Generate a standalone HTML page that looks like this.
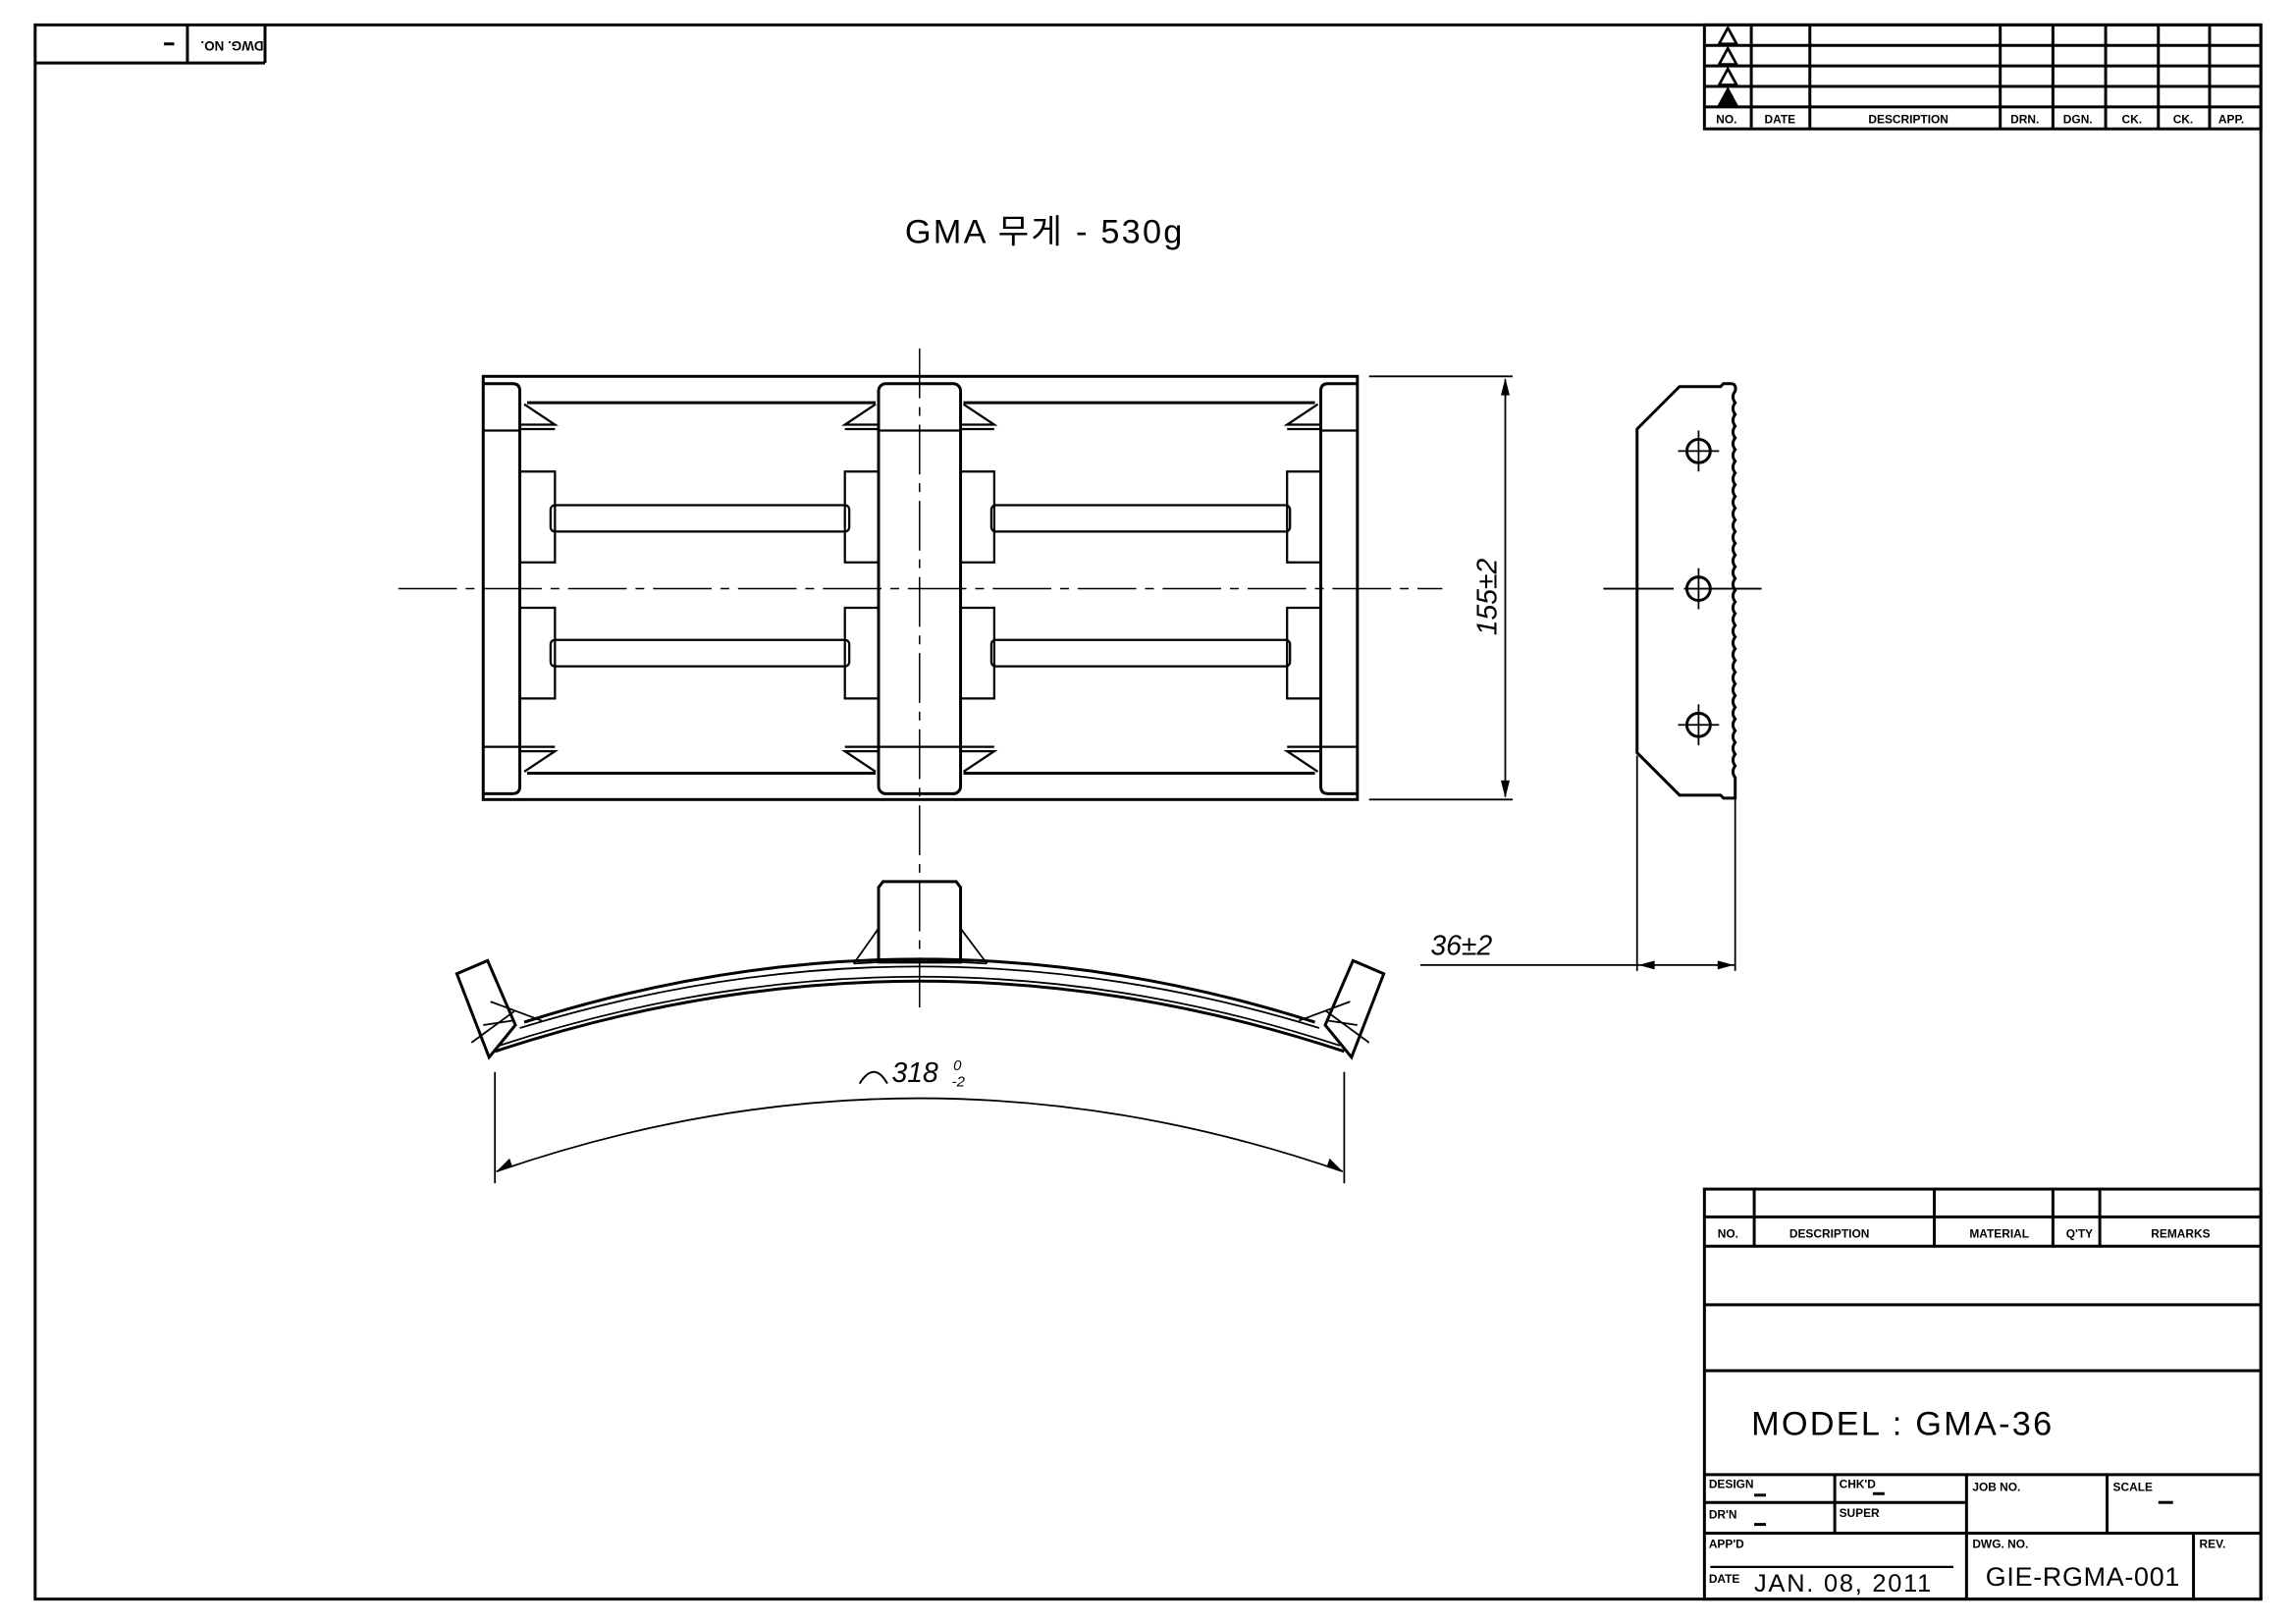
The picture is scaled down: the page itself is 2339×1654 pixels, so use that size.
<!DOCTYPE html>
<html><head><meta charset="utf-8"><style>
html,body{margin:0;padding:0;background:#fff;}
svg{display:block;}
text{font-family:"Liberation Sans","Noto Sans CJK KR",sans-serif;fill:#000;}
.b{font-weight:bold;font-size:8px;}
</style></head><body>
<svg width="2339" height="1654" viewBox="0 0 1568 1109" preserveAspectRatio="none" xmlns="http://www.w3.org/2000/svg">
<g fill="none" stroke="#000" stroke-width="2">
<rect x="24" y="17" width="1520" height="1075"/>
<line x1="24" y1="43" x2="181" y2="43"/><line x1="181" y1="17" x2="181" y2="43"/><line x1="128" y1="17" x2="128" y2="43"/>
<rect x="1164" y="17" width="380" height="71"/>
<line x1="1164" y1="31" x2="1544" y2="31"/><line x1="1164" y1="45" x2="1544" y2="45"/><line x1="1164" y1="59" x2="1544" y2="59"/><line x1="1164" y1="73" x2="1544" y2="73"/>
<line x1="1196" y1="17" x2="1196" y2="88"/><line x1="1236" y1="17" x2="1236" y2="88"/><line x1="1366" y1="17" x2="1366" y2="88"/><line x1="1402" y1="17" x2="1402" y2="88"/><line x1="1438" y1="17" x2="1438" y2="88"/><line x1="1474" y1="17" x2="1474" y2="88"/><line x1="1509" y1="17" x2="1509" y2="88"/>
<rect x="1164" y="812" width="380" height="280"/>
<line x1="1164" y1="831" x2="1544" y2="831"/><line x1="1164" y1="851" x2="1544" y2="851"/><line x1="1164" y1="891" x2="1544" y2="891"/><line x1="1164" y1="936" x2="1544" y2="936"/><line x1="1164" y1="1007" x2="1544" y2="1007"/>
<line x1="1198" y1="812" x2="1198" y2="851"/><line x1="1321" y1="812" x2="1321" y2="851"/><line x1="1402" y1="812" x2="1402" y2="851"/><line x1="1434" y1="812" x2="1434" y2="851"/>
<line x1="1253" y1="1007" x2="1253" y2="1047"/><line x1="1343" y1="1007" x2="1343" y2="1092"/><line x1="1439" y1="1007" x2="1439" y2="1047"/>
<line x1="1164" y1="1026" x2="1343" y2="1026"/><line x1="1164" y1="1047" x2="1544" y2="1047"/><line x1="1498" y1="1047" x2="1498" y2="1092"/>
<line x1="1168" y1="1070" x2="1334" y2="1070" stroke-width="1.5"/>
</g>
<g fill="none" stroke="#000" stroke-width="1.8">
<path d="M1174 30 L1180 19 L1186 30 Z"/><path d="M1174 44 L1180 33 L1186 44 Z"/><path d="M1174 58 L1180 47 L1186 58 Z"/><path d="M1174 72 L1180 61 L1186 72 Z" fill="#000"/>
</g>
<g class="b">
<text x="1172" y="84" class="b">NO.</text><text x="1205" y="84" class="b">DATE</text><text x="1276" y="84" class="b">DESCRIPTION</text><text x="1373" y="84" class="b">DRN.</text><text x="1409" y="84" class="b">DGN.</text><text x="1449" y="84" class="b">CK.</text><text x="1484" y="84" class="b">CK.</text><text x="1515" y="84" class="b">APP.</text>
<text x="1173" y="845" class="b">NO.</text><text x="1222" y="845" class="b">DESCRIPTION</text><text x="1345" y="845" class="b">MATERIAL</text><text x="1411" y="845" class="b">Q'TY</text><text x="1469" y="845" class="b">REMARKS</text>
<text x="1167" y="1016" class="b">DESIGN</text><text x="1256" y="1016" class="b">CHK'D</text><text x="1347" y="1018" class="b">JOB NO.</text><text x="1443" y="1018" class="b">SCALE</text>
<text x="1167" y="1037" class="b">DR'N</text><text x="1256" y="1036" class="b">SUPER</text>
<text x="1167" y="1057" class="b">APP'D</text><text x="1347" y="1057" class="b">DWG. NO.</text><text x="1502" y="1057" class="b">REV.</text>
<text x="1167" y="1081" class="b">DATE</text>
</g>
<g stroke="#000" stroke-width="2">
<line x1="1198" y1="1021" x2="1206" y2="1021"/><line x1="1279" y1="1020" x2="1287" y2="1020"/><line x1="1198" y1="1041" x2="1206" y2="1041"/><line x1="1474" y1="1026" x2="1484" y2="1026"/>
<line x1="112" y1="30" x2="119" y2="30"/>
</g>
<text transform="translate(180,28) rotate(180)" class="b" style="font-size:9px">DWG. NO.</text>
<text x="1196" y="980" style="font-size:23px;letter-spacing:1.5px">MODEL : GMA-36</text>
<text x="1356" y="1083" style="font-size:18px;letter-spacing:0.5px">GIE-RGMA-001</text>
<text x="1198" y="1087" style="font-size:17px;letter-spacing:1.2px">JAN. 08, 2011</text>
<text x="618" y="166" style="font-size:23px;letter-spacing:1.5px">GMA 무게 - 530g</text>

<g fill="none" stroke="#000" stroke-width="2">
<rect x="330" y="257" width="597" height="289"/>
<path d="M330 262 H350 Q355 262 355 267 V537 Q355 542 350 542 H330"/>
<path d="M927 262 H907 Q902 262 902 267 V537 Q902 542 907 542 H927"/>
<rect x="600" y="262" width="56" height="280" rx="5"/>
<line x1="360" y1="275" x2="598" y2="275"/><line x1="658" y1="275" x2="898" y2="275"/>
<line x1="360" y1="528" x2="598" y2="528"/><line x1="658" y1="528" x2="898" y2="528"/>
</g>
<g fill="none" stroke="#000" stroke-width="1.5">
<line x1="330" y1="294" x2="355" y2="294"/><line x1="330" y1="510" x2="355" y2="510"/>
<line x1="902" y1="294" x2="927" y2="294"/><line x1="902" y1="510" x2="927" y2="510"/>
<line x1="600" y1="294" x2="656" y2="294"/><line x1="600" y1="510" x2="656" y2="510"/>
<path d="M355 322 H379 V384 H355"/><path d="M355 415 H379 V477 H355"/>
<path d="M600 322 H577 V384 H600"/><path d="M600 415 H577 V477 H600"/>
<path d="M656 322 H679 V384 H656"/><path d="M656 415 H679 V477 H656"/>
<path d="M902 322 H879 V384 H902"/><path d="M902 415 H879 V477 H902"/>
<rect x="376" y="345" width="204" height="18" rx="3"/><rect x="376" y="437" width="204" height="18" rx="3"/>
<rect x="677" y="345" width="204" height="18" rx="3"/><rect x="677" y="437" width="204" height="18" rx="3"/>
<path d="M358 276 L379 290 H356"/><path d="M356 293 H379"/>
<path d="M598 276 L577 290 H600"/><path d="M600 293 H577"/>
<path d="M658 276 L679 290 H656"/><path d="M656 293 H679"/>
<path d="M900 276 L879 290 H902"/><path d="M902 293 H879"/>
<path d="M358 527 L379 513 H356"/><path d="M356 510 H379"/>
<path d="M598 527 L577 513 H600"/><path d="M600 510 H577"/>
<path d="M658 527 L679 513 H656"/><path d="M656 510 H679"/>
<path d="M900 527 L879 513 H902"/><path d="M902 510 H879"/>
</g>
<g stroke="#000" stroke-width="1" fill="none">
<line x1="272" y1="402" x2="985" y2="402" stroke-dasharray="40,6,6,6"/>
<line x1="628" y1="238" x2="628" y2="692" stroke-dasharray="34,6,6,6"/>
</g>
<g stroke="#000" stroke-width="1.2" fill="none">
<line x1="935" y1="257" x2="1033" y2="257"/><line x1="935" y1="546" x2="1033" y2="546"/>
<line x1="1028" y1="259" x2="1028" y2="544"/>
</g>
<path d="M1028 258 L1025 270 L1031 270 Z M1028 545 L1025 533 L1031 533 Z" fill="#000"/>
<text transform="translate(1022,434) rotate(-90)" style="font-size:19px;font-style:italic">155±2</text>

<g fill="none" stroke="#000" stroke-width="2">
<path d="M1183 262 H1177 L1175 264 H1147 L1118 293 V514 L1147 543 H1175 L1177 545 H1185"/>
<path d="M1183 262 Q1186 263 1185 267 q-3 4 0 8 q-3 4 0 8 q-3 4 0 8 q-3 4 0 8 q-3 4 0 8 q-3 4 0 8 q-3 4 0 8 q-3 4 0 8 q-3 4 0 8 q-3 4 0 8 q-3 4 0 8 q-3 4 0 8 q-3 4 0 8 q-3 4 0 8 q-3 4 0 8 q-3 4 0 8 q-3 4 0 8 q-3 4 0 8 q-3 4 0 8 q-3 4 0 8 q-3 4 0 8 q-3 4 0 8 q-3 4 0 8 q-3 4 0 8 q-3 4 0 8 q-3 4 0 8 q-3 4 0 8 q-3 4 0 8 q-3 4 0 8 q-3 4 0 8 q-3 4 0 8 q-3 4 0 8 q-3 4 0 8 V546"/>
<circle cx="1160" cy="308" r="8"/><circle cx="1160" cy="402" r="8"/><circle cx="1160" cy="495" r="8"/>
</g>
<g stroke="#000" stroke-width="1.2" fill="none">
<line x1="1146" y1="308" x2="1174" y2="308"/><line x1="1160" y1="294" x2="1160" y2="322"/>
<line x1="1146" y1="495" x2="1174" y2="495"/><line x1="1160" y1="481" x2="1160" y2="509"/>
<line x1="1160" y1="388" x2="1160" y2="416"/>
<line x1="1095" y1="402" x2="1143" y2="402"/><line x1="1150" y1="402" x2="1203" y2="402"/>
<line x1="1118" y1="516" x2="1118" y2="663"/><line x1="1185" y1="546" x2="1185" y2="663"/>
<line x1="970" y1="659" x2="1185" y2="659"/>
</g>
<path d="M1119 659 L1130 656 L1130 662 Z M1184 659 L1173 656 L1173 662 Z" fill="#000"/>
<text x="977" y="652" style="font-size:19px;font-style:italic">36±2</text>

<g fill="none" stroke="#000" stroke-width="2">
<path d="M600 657 V606 L603 602 H653 L656 606 V657 Z"/>
<path d="M358 698 Q628 612 898 698"/>
<path d="M338 718 Q628 622 918 718"/>
<path d="M312 665 L333 656 L352 700 L334 722 Z"/>
<path d="M945 665 L924 656 L905 700 L923 722 Z"/>
</g>
<g fill="none" stroke="#000" stroke-width="1.2">
<path d="M355 702 Q628 618 901 702"/>
<path d="M341 714 Q628 620 915 714"/>
<line x1="600" y1="634" x2="583" y2="658"/><line x1="656" y1="634" x2="674" y2="658"/>
<line x1="583" y1="658" x2="600" y2="657"/><line x1="656" y1="657" x2="674" y2="658"/>
<line x1="335" y1="684" x2="370" y2="697"/><line x1="322" y1="712" x2="352" y2="690"/><line x1="330" y1="700" x2="350" y2="697"/>
<line x1="922" y1="684" x2="887" y2="697"/><line x1="935" y1="712" x2="905" y2="690"/><line x1="927" y1="700" x2="907" y2="697"/>
<line x1="338" y1="732" x2="338" y2="808"/><line x1="918" y1="732" x2="918" y2="808"/>
<path d="M339 800 Q628 700 917 800"/>
</g>
<path d="M339 800 L348 791 L350 797 Z M917 800 L908 791 L906 797 Z" fill="#000"/>
<path d="M587 740 Q597 724 606 740" fill="none" stroke="#000" stroke-width="1.3"/>
<text x="609" y="739" style="font-size:19px;font-style:italic">318</text>
<text x="651" y="731" style="font-size:10px;font-style:italic">0</text>
<text x="650" y="742" style="font-size:10px;font-style:italic">-2</text>
</svg>
</body></html>
